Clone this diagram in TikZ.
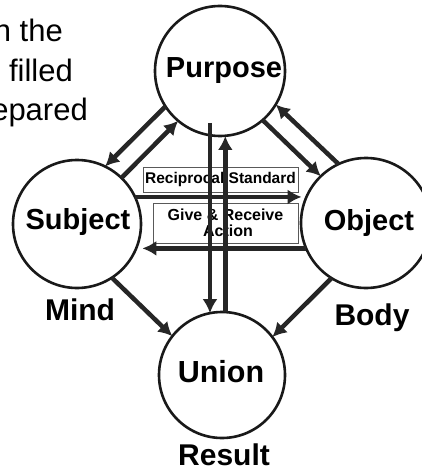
\documentclass[tikz,border=0pt]{standalone}
\usepackage{fontspec}
\setmainfont{Liberation Sans}
\usetikzlibrary{arrows.meta,calc}
\begin{document}
\begin{tikzpicture}[x=1pt,y=-1pt,
  circ/.style={circle,draw=black!90,line width=2.6pt,inner sep=0pt,outer sep=0pt},
  big/.style={font=\fontsize{29}{33}\selectfont\bfseries,inner sep=0pt,anchor=base},
  side/.style={font=\fontsize{30}{34}\selectfont\bfseries,inner sep=0pt,anchor=base},
  intro/.style={font=\fontsize{31}{36}\selectfont,inner sep=0pt,anchor=base east},
  flow/.style={draw=black!85,line width=4.5pt,-{Latex[length=14pt,width=15pt]}},
  tag/.style={draw=black!65,line width=0.9pt,inner sep=0pt,fill=white,align=center}
]
\useasboundingbox (0,0) rectangle (422,473);

% partial text at top left
\node[intro] (t1) at (63,42) {n the};
\node[intro] (t2) at (73,82) {filled};
\node[intro] (t3) at (88,121) {epared};

% circles
\node[circ,minimum size=130pt] (P) at (220,71) {};
\node[circ,minimum size=128pt] (S) at (77,224) {};
\node[circ,minimum size=130pt] (O) at (366,223) {};
\node[circ,minimum size=126pt] (U) at (222,375) {};

% circle labels
\node[big] (Pl) at (224,78) {Purpose};
\node[big] (Sl) at (78,229) {Subject};
\node[big] (Ol) at (369,230) {Object};
\node[big,font=\fontsize{30.5}{34}\selectfont\bfseries] (Ul) at (221,382) {Union};

% outer labels
\node[side] (mind) at (80,320) {Mind};
\node[side] (body) at (372,325) {Body};
\node[side] (res) at (224,465) {Result};

% boxes
\node[tag,minimum width=155pt,minimum height=25pt,font=\fontsize{15.5}{17}\selectfont\bfseries]
  (rs) at (220.5,179.5) {Reciprocal Standard};
\node[tag,minimum width=145pt,minimum height=40pt,font=\fontsize{16}{16}\selectfont\bfseries]
  (gr) at (225.5,223) {Give \& Receive\\\hspace*{5pt}Action};

% diagonal arrows
\draw[flow] (P.213) -- (S.64);
\draw[flow] (S.46) -- (P.230);
\draw[flow] (P.311) -- (O.134);
\draw[flow] (O.115) -- (P.329);
\draw[flow] (S.303) -- (U.142);
\draw[flow] (O.238) -- (U.37);

% horizontal arrows
\draw[flow,shorten >=5pt] (S.25) -- (S.25 -| O.156);
\draw[flow,shorten >=6pt] (O.203) -- (O.203 -| S.338);

% vertical arrows
\draw[flow] ([yshift=13pt]P.south -| U.101) -- (U.101);
\draw[flow] (U.87) -- (U.87 |- P.south);
\end{tikzpicture}
\end{document}
